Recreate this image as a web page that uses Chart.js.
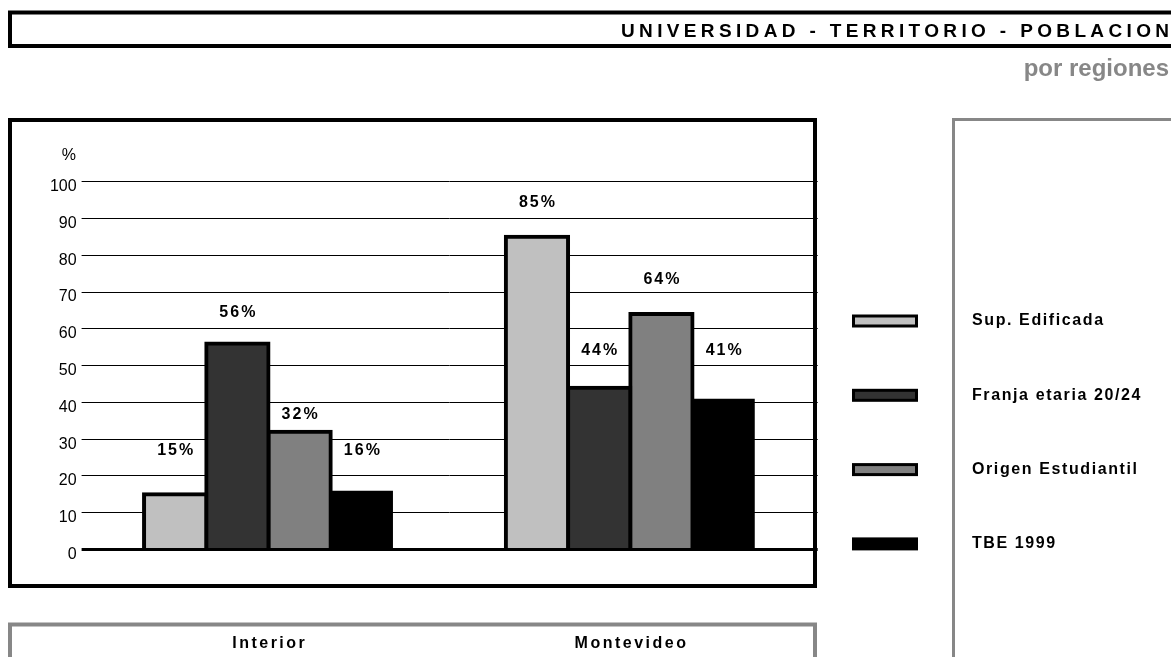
<!DOCTYPE html>
<html>
<head>
<meta charset="utf-8">
<script src="https://cdn.jsdelivr.net/npm/chart.js@4.4.1/dist/chart.umd.min.js"></script>
<style>
html,body{margin:0;padding:0;background:#fff;overflow:hidden}
#wrap{width:1171px;height:657px;position:relative}
</style>
</head>
<body>
<div id="wrap"><canvas id="c"></canvas></div>
<script>
// ---- data ----
const title = 'UNIVERSIDAD - TERRITORIO - POBLACION';
const subtitle = 'por regiones';
const categories = ['Interior', 'Montevideo'];
const seriesNames = ['Sup. Edificada', 'Franja etaria 20/24', 'Origen Estudiantil', 'TBE 1999'];
const supEdificada = [15, 85];
const franjaEtaria = [56, 44];
const origenEstudiantil = [32, 64];
const tbe1999 = [16, 41];
const yTicks = [0, 10, 20, 30, 40, 50, 60, 70, 80, 90, 100];
const yUnit = '%';
const seriesColors = ['#c0c0c0', '#333333', '#808080', '#000000'];

const FONT = '"Liberation Sans", Arial, Helvetica, sans-serif';

function txt(ctx, s, x, y, font, color, align, baseline, spacing) {
  ctx.save();
  ctx.font = font;
  ctx.fillStyle = color;
  ctx.textAlign = align;
  ctx.textBaseline = baseline;
  ctx.letterSpacing = (spacing || 0) + 'px';
  let dx = 0;
  if (align === 'center') dx = (spacing || 0) / 2;
  else if (align === 'right') dx = (spacing || 0);
  ctx.fillText(s, x + dx, y);
  ctx.restore();
}

const allSeries = [supEdificada, franjaEtaria, origenEstudiantil, tbe1999];
const datasets = allSeries.map((d, i) => ({
  label: seriesNames[i],
  data: d,
  backgroundColor: seriesColors[i],
  borderColor: '#000000',
  borderWidth: i === 3 ? 0 : 4,
  inflateAmount: i === 3 ? 0 : 2,
  borderSkipped: 'start',
  categoryPercentage: 0.688,
  barPercentage: 1
}));

const decor = {
  id: 'decor',
  afterDraw(chart, args, opts) {
    const ctx = chart.ctx;
    const xs = chart.scales.x, ys = chart.scales.y;

    ctx.save();
    // title box
    ctx.strokeStyle = '#000'; ctx.lineWidth = 4;
    ctx.strokeRect(10, 12.5, 1200, 33.5);
    // chart box
    ctx.strokeRect(10, 120, 805, 466);
    // category box
    ctx.strokeStyle = '#878787'; ctx.lineWidth = 4;
    ctx.strokeRect(10, 624.5, 805, 100);
    // legend panel
    ctx.lineWidth = 3;
    ctx.beginPath();
    ctx.moveTo(953.5, 700); ctx.lineTo(953.5, 119.5); ctx.lineTo(1200, 119.5);
    ctx.stroke();
    ctx.restore();

    // title, fitted to its box width
    ctx.save();
    ctx.font = 'bold 19px ' + FONT;
    ctx.letterSpacing = '0px';
    const w = ctx.measureText(title).width;
    ctx.restore();
    const sp = (548 - w) / (title.length - 1);
    txt(ctx, title, 621, 37, 'bold 19px ' + FONT, '#000', 'left', 'alphabetic', sp);
    txt(ctx, subtitle, 1169, 76, 'bold 24px ' + FONT, '#878787', 'right', 'alphabetic', 0);

    // y unit
    txt(ctx, yUnit, 76, 156, '16px ' + FONT, '#000', 'right', 'middle', 0);

    // data labels
    chart.data.datasets.forEach((ds, di) => {
      const meta = chart.getDatasetMeta(di);
      meta.data.forEach((el, i) => {
        const v = ds.data[i];
        const yp = ys.getPixelForValue(v + opts.labelLift[di][i]);
        txt(ctx, v + '%', el.x, yp, 'bold 16px ' + FONT, '#000', 'center', 'middle', 2);
      });
    });

    // category labels
    categories.forEach((c, i) => {
      txt(ctx, c, xs.getPixelForValue(i), 648, 'bold 16px ' + FONT, '#000', 'center', 'alphabetic', 2.5);
    });

    // legend
    chart.data.datasets.forEach((ds, i) => {
      const cy = 321 + i * 74.3;
      ctx.save();
      ctx.fillStyle = '#000';
      ctx.fillRect(852, cy - 6.5, 66, 13);
      if (i < 3) {
        ctx.fillStyle = ds.backgroundColor;
        ctx.fillRect(855, cy - 3.5, 60, 7);
      }
      ctx.restore();
      txt(ctx, ds.label, 972, cy, 'bold 16px ' + FONT, '#000', 'left', 'middle', 1.6);
    });
  }
};

function zeroPad(s) { s.paddingTop = 0; s.paddingBottom = 0; s.paddingLeft = 0; s.paddingRight = 0; }

new Chart(document.getElementById('c'), {
  type: 'bar',
  data: { labels: categories, datasets },
  options: {
    responsive: true,
    maintainAspectRatio: false,
    animation: false,
    events: [],
    layout: { padding: { top: 181.7, bottom: 107.5, left: 0, right: 0 } },
    plugins: {
      legend: { display: false },
      title: { display: false },
      tooltip: { enabled: false },
      decor: { labelLift: [[12, 9.3], [8.5, 10.2], [4.8, 9.5], [11, 13.2]] }
    },
    scales: {
      x: {
        type: 'category',
        offset: true,
        grid: { display: false },
        border: { display: false },
        ticks: { display: false },
        afterFit(s) { s.height = 0; zeroPad(s); }
      },
      y: {
        position: 'left',
        min: 0, max: 100,
        z: 1,
        afterBuildTicks(s) { s.ticks = yTicks.map(v => ({ value: v })); },
        grid: {
          color: '#000',
          lineWidth: c => (c.tick && c.tick.value === 0 ? 3 : 1),
          drawTicks: true,
          tickLength: 6
        },
        border: { display: false },
        ticks: {
          color: '#000',
          font: { family: FONT, size: 16 },
          padding: 5,
          labelOffset: 5,
          callback: v => String(v)
        },
        afterFit(s) { s.width = 87.6; zeroPad(s); }
      },
      y2: {
        position: 'right',
        min: 0, max: 100,
        afterBuildTicks(s) { s.ticks = yTicks.map(v => ({ value: v })); },
        grid: {
          color: '#000',
          lineWidth: c => (c.tick && c.tick.value === 0 ? 3 : 1),
          drawOnChartArea: false,
          drawTicks: true,
          tickLength: 6.5
        },
        border: { display: false },
        ticks: { display: false },
        afterFit(s) { s.width = 1171 - 811.2; zeroPad(s); }
      }
    }
  },
  plugins: [decor]
});
</script>
</body>
</html>
